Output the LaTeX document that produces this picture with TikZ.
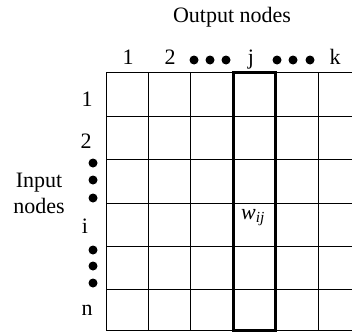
\documentclass[tikz,border=0pt]{standalone}
\usepackage{xcolor}
\usepackage{amsmath}
\usepackage{fontspec}
\setmainfont{Liberation Serif}
\usepackage{tikz}

\begin{document}
\begin{tikzpicture}[x=1pt,y=1pt,yscale=-1,xscale=1, every node/.style={font=\fontsize{22}{26}\selectfont}]
\useasboundingbox (0,0) rectangle (352,332);

%Shape: Grid lines (rows)
\draw [line width=0.8pt]  (106,72) -- (352,72) ;
\draw [line width=0.8pt]  (106,116) -- (352,116) ;
\draw [line width=0.8pt]  (106,159) -- (352,159) ;
\draw [line width=0.8pt]  (106,203) -- (352,203) ;
\draw [line width=0.8pt]  (106,246) -- (352,246) ;
\draw [line width=0.8pt]  (106,289) -- (352,289) ;
\draw [line width=0.8pt]  (106,330) -- (352,330) ;
%Shape: Grid lines (columns)
\draw [line width=0.8pt]  (106,72) -- (106,330) ;
\draw [line width=0.8pt]  (148,72) -- (148,330) ;
\draw [line width=0.8pt]  (190,72) -- (190,330) ;
\draw [line width=0.8pt]  (318,72) -- (318,330) ;
%Shape: Rectangle (column j)
\draw [line width=3pt]  (233,72) -- (275,72) -- (275,330) -- (233,330) -- cycle ;

% Text Node
\node (title) [anchor=base] at (232,22) {Output nodes};
% Text Node
\node (col1) [anchor=base] at (128,64) {1};
\node (col2) [anchor=base] at (170,64) {2};
\node (colj) [anchor=base] at (251,64) {j};
\node (colk) [anchor=base] at (335,64) {k};
% Dots
\fill (194,60) circle (4.5) ;
\fill (210,60) circle (4.5) ;
\fill (226,60) circle (4.5) ;
\fill (277,60) circle (4.5) ;
\fill (293,60) circle (4.5) ;
\fill (310,60) circle (4.5) ;

% Text Node
\node (row1) [anchor=base] at (87,106) {1};
\node (row2) [anchor=base] at (86,148) {2};
\node (rowi) [anchor=base] at (85,233) {i};
\node (rown) [anchor=base] at (87,315) {n};
% Dots
\fill (93,163) circle (4.5) ;
\fill (93,180) circle (4.5) ;
\fill (93,198) circle (4.5) ;
\fill (93,250) circle (4.5) ;
\fill (93,266) circle (4.5) ;
\fill (93,283) circle (4.5) ;

% Text Node
\node (input) [anchor=base,align=center] at (39,213) {Input\\nodes};
% Text Node
\node (wij) at (253,218) {\textit{w}\textsubscript{\textit{ij}}};

\end{tikzpicture}
\end{document}
